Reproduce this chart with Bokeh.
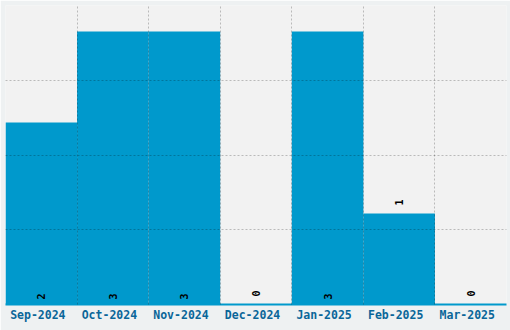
import math
from bokeh.plotting import figure
from bokeh.models import FixedTicker, ColumnDataSource, Range1d
from bokeh.core.properties import value
from bokeh.embed import file_html
from bokeh.resources import INLINE

months = ["Sep-2024", "Oct-2024", "Nov-2024", "Dec-2024", "Jan-2025", "Feb-2025", "Mar-2025"]
counts = [2, 3, 3, 0, 3, 1, 0]

xs = list(range(len(months)))
ymax = max(counts) * 1.095

inside = [c >= 2 for c in counts]
src = ColumnDataSource(dict(
    x=xs,
    top=counts,
    label=[str(c) for c in counts],
    ly=[0 if i else c for c, i in zip(counts, inside)],
    off=[-5 if i else -8 for i in inside],
))

p = figure(width=510, height=330, output_backend="svg", toolbar_location=None,
           x_range=Range1d(-0.5, len(months) - 0.5), y_range=Range1d(0, ymax),
           min_border_left=5, min_border_right=4, min_border_top=5, min_border_bottom=26)
p.background_fill_color = "#f2f2f2"
p.border_fill_color = "#eef1f2"
p.outline_line_color = None

p.vbar(x="x", top="top", width=1.0, bottom=0, source=src, fill_color="#0099cc", line_color=None)
p.text(x="x", y="ly", text="label", source=src, angle=math.pi / 2, y_offset="off",
       text_align="left", text_baseline="middle", text_color="#000000",
       text_font=value("DejaVu Sans Mono"), text_font_style="bold", text_font_size="10px")

p.yaxis.visible = False
p.xaxis.ticker = FixedTicker(ticks=xs)
p.xaxis.major_label_overrides = {i: m + " " for i, m in enumerate(months)}
p.xaxis.major_tick_line_color = None
p.xaxis.minor_tick_line_color = None
p.xaxis.major_tick_out = 0
p.xaxis.minor_tick_out = 0
p.xaxis.axis_line_color = "#0099cc"
p.xaxis.axis_line_width = 2
p.xaxis.major_label_text_font = "DejaVu Sans Mono"
p.xaxis.major_label_text_font_style = "bold"
p.xaxis.major_label_text_font_size = "11.5px"
p.xaxis.major_label_text_color = "#0a6699"
p.xaxis.major_label_standoff = 3

p.xgrid.ticker = FixedTicker(ticks=[i + 0.5 for i in xs[:-1]])
p.ygrid.ticker = FixedTicker(ticks=[ymax * k / 4 for k in range(1, 4)])
for g in (p.xgrid, p.ygrid):
    g.grid_line_color = "#000000"
    g.grid_line_alpha = 0.23
    g.grid_line_dash = "2 2"
    g.grid_line_width = 1
    g.level = "overlay"

open("out.html", "w").write(file_html(p, INLINE))
